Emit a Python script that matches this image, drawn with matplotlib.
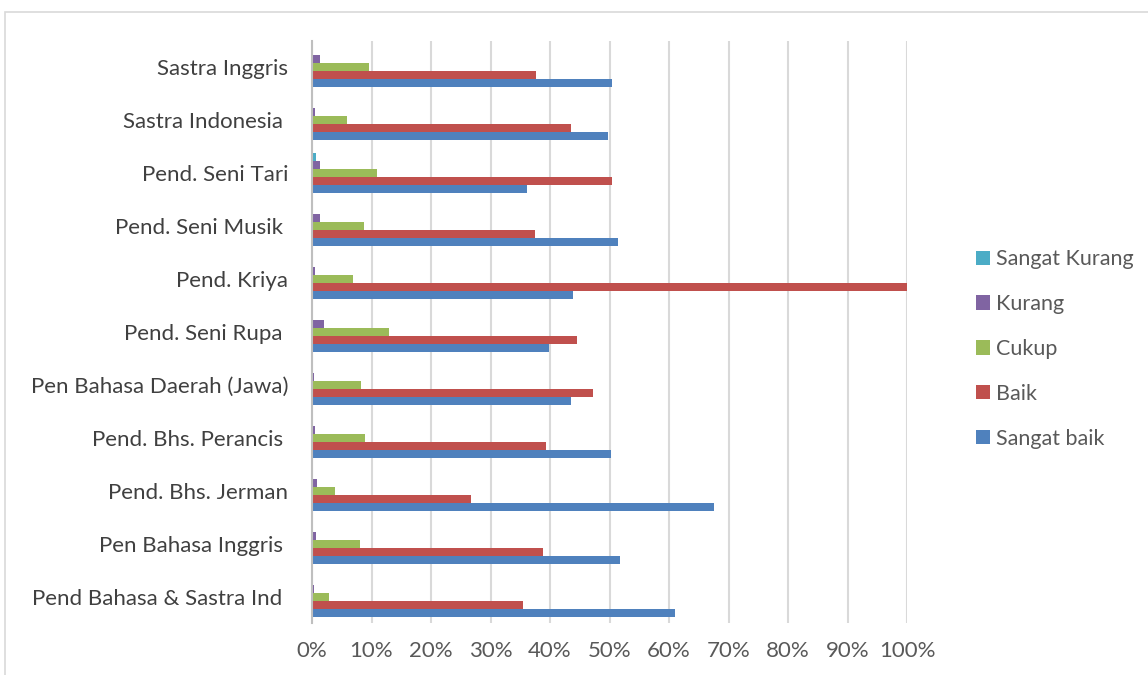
import matplotlib
matplotlib.use("Agg")
import matplotlib.pyplot as plt
from matplotlib.patches import Rectangle, Patch
from matplotlib.ticker import PercentFormatter
import numpy as np

# Categories, bottom to top
prodi = [
    "Pend Bahasa & Sastra Ind ",
    "Pen Bahasa Inggris ",
    "Pend. Bhs. Jerman",
    "Pend. Bhs. Perancis ",
    "Pen Bahasa Daerah (Jawa)",
    "Pend. Seni Rupa ",
    "Pend. Kriya",
    "Pend. Seni Musik ",
    "Pend. Seni Tari",
    "Sastra Indonesia ",
    "Sastra Inggris",
]

# Percentages (same order as prodi)
sangat_baik   = [61.0, 51.8, 67.6, 50.2, 43.5, 39.9, 43.9, 51.5, 36.1, 49.7, 50.5]
baik          = [35.5, 38.8, 26.7, 39.3, 47.3, 44.5, 100.0, 37.5, 50.5, 43.6, 37.6]
cukup         = [2.9, 8.0, 3.8, 8.9, 8.2, 12.9, 6.9, 8.8, 10.9, 5.8, 9.6]
kurang        = [0.3, 0.6, 0.8, 0.5, 0.3, 2.0, 0.5, 1.4, 1.4, 0.5, 1.4]
sangat_kurang = [0.0, 0.0, 0.0, 0.0, 0.0, 0.0, 0.0, 0.0, 0.6, 0.0, 0.0]

series_names = ["Sangat baik", "Baik", "Cukup", "Kurang", "Sangat Kurang"]
series_vals = [sangat_baik, baik, cukup, kurang, sangat_kurang]
series_colors = ["#4F81BD", "#C0504D", "#9BBB59", "#8064A2", "#4BACC6"]

plt.rcParams['font.family'] = ['Lato', 'DejaVu Sans']

fig = plt.figure(figsize=(11.48, 6.75), dpi=100)

# light chart border
fig.patches.append(Rectangle((5 / 1148, -0.1), 1.2, (675 - 12) / 675 + 0.1,
                             transform=fig.transFigure, fill=False,
                             edgecolor="#D9D9D9", linewidth=1.2))

ax = fig.add_axes([312 / 1148, 52 / 675, 595 / 1148, 582 / 675])

y = np.arange(len(prodi))
h = 0.151
for i, (name, vals, col) in enumerate(zip(series_names, series_vals, series_colors)):
    ax.barh(y + (i - 2) * h, vals, height=h, color=col, label=name, zorder=3)

ax.set_xlim(0, 100)
ax.set_ylim(-0.5, len(prodi) - 0.5)
ax.set_xticks(np.arange(0, 101, 10))
ax.xaxis.set_major_formatter(PercentFormatter(decimals=0))
ax.set_yticks(y)
ax.set_yticklabels(prodi)

ax.grid(axis="x", color="#D9D9D9", linewidth=1.5, zorder=0)
for s in ["top", "right", "bottom"]:
    ax.spines[s].set_visible(False)
ax.spines["left"].set_color("#BFBFBF")
ax.spines["left"].set_linewidth(1.5)
ax.spines["left"].set_zorder(4)

ax.tick_params(axis="y", length=0, pad=17, labelsize=16, labelcolor="#404040")
ax.tick_params(axis="x", length=0, pad=13, labelsize=16, labelcolor="#595959")

handles = [Patch(facecolor=c, label=n) for n, c in zip(series_names, series_colors)][::-1]
fig.legend(handles=handles, loc="center left", bbox_to_anchor=(976 / 1148, 1 - 349 / 675),
           frameon=False, fontsize=15.5, labelcolor="#595959", borderpad=0, borderaxespad=0,
           handlelength=0.65, handleheight=0.65, handletextpad=0.3, labelspacing=1.15)

fig.savefig("out.png", dpi=100)
